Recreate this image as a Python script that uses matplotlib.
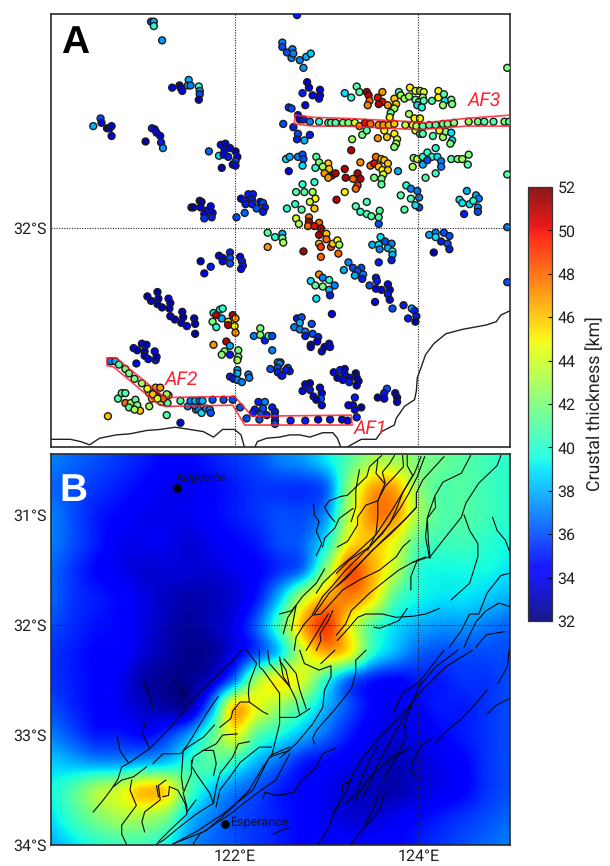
import numpy as np
import matplotlib
matplotlib.use("Agg")
import matplotlib.pyplot as plt
from matplotlib.cm import ScalarMappable
from matplotlib.colors import Normalize

plt.rcParams['font.family'] = ['Roboto', 'DejaVu Sans']
plt.rcParams['text.hinting'] = 'no_hinting'

# Stations: (longitude E, latitude S, crustal thickness km)
stations_far_north = [(121.09,30.12,36),(121.12,30.12,38),(121.12,30.16,40),(121.21,30.29,37.5),
 (121.32,30.72,34),(121.40,30.70,34),(121.41,30.72,33.5),(121.43,30.75,34),(121.50,30.65,38),(121.49,30.70,38),(121.52,30.70,37),
 (121.61,30.71,40),(121.62,30.75,37.5),(121.62,30.78,36),(121.61,30.83,33),
 (120.46,31.07,38),(120.54,31.00,36),(120.55,31.04,34),(120.61,31.09,33),(120.64,31.09,34),(120.66,31.07,33.5),(120.66,31.16,34),
 (121.03,31.21,33),(121.10,31.09,35),(121.13,31.10,34),(121.15,31.13,34),(121.19,31.16,33.5),(121.20,31.22,35),(121.22,31.27,37.5)]
stations_nw_block = [(121.72,31.30,36.5),(121.83,31.34,39),(121.86,31.45,33),(121.85,31.24,34.5),(121.90,31.23,33.5),(121.89,31.29,34),
 (121.93,31.35,35),(121.95,31.27,34),(121.88,31.33,34),(122.01,31.30,33),(122.03,31.35,34),(122.01,31.39,36),(121.98,31.42,34),(122.01,31.43,34.5),
 (121.53,31.81,33),(121.55,31.81,33),(121.62,31.75,33),(121.64,31.76,33),(121.63,31.81,33.5),(121.70,31.84,34.5),(121.74,31.80,34),(121.67,31.87,34),
 (121.76,31.86,34),(121.75,31.90,35),(121.67,31.91,35.5),(122.07,31.73,34),(122.11,31.75,35),(122.15,31.69,35),(122.20,31.69,35),(122.19,31.74,35),
 (122.12,31.78,35),(122.19,31.78,35),(122.24,31.82,36),(122.28,31.76,34),(122.31,31.77,36),(122.33,31.81,35),(122.31,31.85,35),(122.11,31.86,36.5),(122.02,31.90,36)]
stations_n_central = [(122.52,30.31,37),(122.52,30.35,36),(122.57,30.40,36),(122.63,30.37,37),(122.62,30.45,37),(122.64,30.41,37),(122.71,30.47,37),
 (122.78,30.44,38),(122.83,30.41,38.5),(122.75,30.54,37.5),(122.68,30.06,35),(124.97,30.54,42),(122.79,30.67,33.5),(122.81,30.72,34),(122.74,30.77,35),
 (122.93,30.74,34),(122.85,30.79,34),(122.93,30.79,34),(122.92,30.82,34),(122.77,30.88,34),(122.59,30.90,35.5),(122.62,30.91,36),(122.69,30.97,34),
 (122.53,31.05,36),(122.64,31.08,35)]
stations_af3_top = [(123.20,30.77,39),(123.33,30.71,41),(123.36,30.76,41),(123.27,30.81,40),(123.44,30.76,51.5),(123.46,30.79,51),(123.47,30.84,48),(123.45,30.88,47.5),
 (123.56,30.81,50),(123.61,30.76,47),(123.61,30.85,50),(123.57,30.87,51),(123.67,30.88,47),(123.74,30.82,46),(123.76,30.87,46),(123.74,30.91,43),(123.70,30.95,41),
 (123.79,30.76,41),(123.81,30.79,43),(123.85,30.82,43),(123.90,30.80,43),(123.91,30.72,45),(123.97,30.75,44),(124.02,30.75,44),(124.06,30.76,44),(124.05,30.81,43),
 (123.97,30.83,41),(124.01,30.85,41),(124.06,30.84,41),(123.99,30.88,39),(124.04,30.90,39.5),(123.90,30.96,43),(124.15,30.84,41),(124.22,30.75,45),(124.22,30.81,45),
 (124.28,30.78,41),(124.29,30.84,39),(124.27,30.88,43),(124.36,30.83,42),(124.37,30.87,42)]
stations_af3_below = [(123.69,30.99,45),(123.96,31.00,45),(124.02,31.00,45),(123.39,31.15,42),(123.44,31.11,41),(123.28,31.19,43),(123.56,31.18,47),(123.63,31.11,45),
 (123.66,31.17,46),(123.74,31.14,45),(123.77,31.19,44),(123.76,31.23,43),(123.74,31.26,42),(123.97,31.11,44),(124.02,31.14,42),(124.05,31.14,41),(124.16,31.16,41),
 (124.27,31.17,43),(124.30,31.12,42),(124.36,31.13,39),(124.37,31.20,39),(124.35,31.23,42),(124.23,31.11,45),(122.69,31.14,36),(122.82,31.15,35),(122.76,31.20,38),
 (122.68,31.19,35),(123.27,31.29,51),(124.19,31.27,40)]
stations_row_three = [(122.56,31.37,39),(122.60,31.35,38),(122.69,31.35,37),(122.74,31.33,36),(122.75,31.37,36),(122.74,31.43,39),(122.59,31.48,34),(122.89,31.35,41),
 (122.92,31.40,42),(123.02,31.41,46),(122.88,31.45,40),(122.96,31.44,43),(123.03,31.46,46),(122.98,31.50,47),(123.06,31.52,51),(123.10,31.50,51),(123.02,31.54,47),
 (123.20,31.46,51),(123.21,31.54,51),(123.37,31.40,47),(123.34,31.50,51),(123.37,31.55,51),(123.29,31.55,48),(123.34,31.61,49),(123.32,31.64,48),(123.52,31.54,42),
 (123.48,31.43,48),(123.52,31.41,50),(123.54,31.35,48),(123.60,31.37,46),(123.63,31.38,46),(123.67,31.41,46),(123.57,31.44,46),(123.61,31.47,45),(123.67,31.47,46),
 (123.62,31.51,44),(123.60,31.55,42),(123.60,31.60,41),(123.78,31.48,38),(123.95,31.36,42),(123.99,31.37,44),(123.94,31.44,43),(124.05,31.35,40),(124.10,31.31,40),
 (124.15,31.35,40),(124.21,31.35,39),(124.25,31.39,37),(124.05,31.42,38),(124.10,31.38,36),(124.25,31.44,37),(124.19,31.50,40),(124.08,31.54,41),(124.36,31.37,41),
 (124.43,31.37,42),(124.48,31.37,43),(124.55,31.33,42),(124.54,31.42,41),(124.97,31.51,41)]
stations_row_four = [(122.74,31.60,40),(122.67,31.67,41),(122.76,31.67,41),(122.87,31.58,40),(122.85,31.67,43),(122.88,31.73,45),(122.82,31.76,44),(122.66,31.78,40),
 (122.73,31.83,41),(122.57,31.82,40),(122.87,31.82,46),(123.20,31.67,45),(123.11,31.74,51),(123.87,31.61,40),(123.92,31.64,37),(123.99,31.66,37),(123.81,31.70,41),
 (123.92,31.73,41),(124.01,31.72,37),(124.01,31.81,36),(123.85,31.83,41),(123.97,31.79,39),(123.32,31.80,41),(123.37,31.85,40),(123.44,31.76,41),(123.44,31.87,41),
 (123.49,31.89,41),(123.58,31.84,41),(123.57,31.96,36),(123.57,31.90,41),(124.45,31.74,39),(124.53,31.66,38),(124.48,31.77,39),(124.56,31.78,39),(124.63,31.70,38),
 (124.66,31.73,37),(124.65,31.81,37),(124.65,31.85,36),(124.50,31.87,35),(124.60,31.75,40),(124.97,31.99,37),(122.67,31.91,44),(122.70,31.96,43),(122.81,31.90,48),
 (122.81,31.94,51),(122.92,31.95,48),(122.80,31.98,48),(122.87,31.98,50),(122.94,32.00,51)]
stations_south_east = [(122.36,32.04,41),(122.44,32.08,40),(122.52,32.05,38),(122.52,32.09,42),(122.53,32.13,43),(122.36,32.17,47),
 (122.92,32.06,51),(123.00,32.05,46),(123.00,32.10,48),(122.92,32.14,46),(122.94,32.17,49),(123.05,32.17,49),(123.07,32.14,46),(123.12,32.11,45),(123.14,32.15,43),
 (123.13,32.23,48),(122.94,32.26,48),(122.75,32.21,51),(123.50,32.15,38),(123.57,32.15,39),(123.59,32.08,39),(123.64,32.12,36),(123.71,32.14,37),(123.67,32.18,38),
 (123.58,32.19,37),(123.72,32.21,40),(123.72,32.24,38),(123.71,32.29,35),(123.57,32.31,35),(124.12,32.06,38),(124.19,32.04,37),(124.19,32.08,39),(124.25,32.12,35),
 (124.28,32.04,36),(124.34,32.07,36),(124.32,32.14,36),(124.34,32.19,35),(124.17,32.22,33),(124.97,32.49,36),(123.24,32.31,37),(123.29,32.36,36),(123.19,32.38,38),
 (123.38,32.36,36),(123.34,32.39,36),(123.40,32.42,37),(123.31,32.43,38),(123.39,32.46,35),(122.92,32.42,47),(122.83,32.48,39),(122.88,32.52,41),(122.96,32.45,37),
 (122.96,32.53,42),(123.03,32.47,40),(123.09,32.52,37),(123.03,32.56,38),(123.04,32.61,35),(122.89,32.64,39),(123.54,32.45,35),(123.55,32.48,35),(123.47,32.52,36),
 (123.54,32.55,34),(123.60,32.56,34),(123.67,32.51,34),(123.69,32.56,34),(123.67,32.60,35),(123.69,32.65,34),(123.53,32.67,34),(123.72,32.73,36),(123.84,32.70,35),
 (123.93,32.73,38),(123.96,32.75,35),(123.98,32.80,35),(123.97,32.85,33),(123.89,32.82,35)]
stations_south_mid = [(123.06,32.78,34),(122.68,32.82,35),(122.73,32.81,36),(122.71,32.86,38),(122.65,32.90,37),(122.71,32.92,37),(122.77,32.94,37),(122.84,32.87,36),
 (122.77,32.98,35),(122.85,32.96,36),(122.91,32.99,35),(122.90,33.03,34),(122.83,33.06,33),(122.83,33.08,33),(122.95,33.12,34),(122.98,33.08,33),(123.03,33.05,34),
 (123.04,33.08,34),(122.50,33.22,38),(122.58,33.27,36),(122.60,33.30,35),(122.51,33.34,35),(122.56,33.29,35),(123.08,33.31,34),(123.12,33.36,33),(123.15,33.29,35),
 (123.20,33.28,33),(123.20,33.33,34),(123.18,33.38,34),(123.25,33.36,34),(123.25,33.40,35),(123.32,33.32,33),(123.33,33.36,33),(123.35,33.39,33),(123.33,33.43,33),
 (122.74,33.48,34),(122.77,33.42,34),(122.82,33.41,33),(122.82,33.47,35),(122.93,33.45,34),(122.95,33.50,34),(122.86,33.53,34),(122.94,33.55,36),(122.95,33.61,34),
 (122.89,33.56,33),(123.31,33.54,35),(123.24,33.61,34),(123.29,33.61,34),(123.31,33.65,34),(123.38,33.63,33),(123.33,33.72,35),(123.66,33.46,36),(123.63,33.50,35),
 (123.63,33.55,34),(123.56,33.54,33),(123.75,33.50,33),(123.77,33.54,33),(123.77,33.58,33)]
stations_south_west = [(121.63,32.30,33),(121.74,32.35,35),(121.67,32.41,34),(121.83,32.25,34),(121.87,32.27,34),(121.87,32.30,34),(121.95,32.22,35),(121.95,32.27,36),
 (121.95,32.32,36),(122.06,32.26,34),(122.08,32.30,35),(122.09,32.34,35),(122.07,32.37,34),(121.05,32.62,33),(121.09,32.66,33),(121.16,32.58,33),(121.17,32.64,33),
 (121.16,32.69,33),(121.21,32.72,33),(121.28,32.64,34),(121.30,32.68,33),(121.29,32.73,33),(121.30,32.80,33),(121.35,32.83,33),(121.43,32.76,33),(121.44,32.81,33),
 (121.42,32.86,33),(121.48,32.89,34),(121.56,32.82,33),(121.57,32.87,33),(121.57,32.96,33),(121.77,32.77,39),(121.84,32.74,40),(121.87,32.73,40),(121.76,32.85,42),
 (121.86,32.82,38),(121.80,32.90,40),(121.80,32.79,51),(121.98,32.79,51),(121.93,32.85,45),(122.01,32.82,47),(121.93,32.88,51),(122.00,32.89,45),(122.01,32.95,47),
 (121.77,33.06,47),(121.91,33.03,51),(121.95,33.07,38),(121.89,33.12,42),(121.86,33.15,42),(121.95,33.15,35),(122.04,33.11,42),(122.04,33.17,42),(122.03,33.20,43),
 (122.21,32.98,37),(122.28,32.91,42),(122.28,32.97,42),(122.33,33.02,35),(122.37,32.98,40),(122.41,32.98,36),(122.41,33.11,37),(122.03,33.29,38),(122.03,33.32,38),
 (121.95,33.35,35),(121.99,33.37,35),(122.03,33.38,37),(122.08,33.40,37),(122.15,33.33,37),(122.16,33.36,37),(120.90,33.09,34),(120.94,33.11,33),(120.99,33.05,34),
 (121.04,33.06,33),(121.02,33.12,33),(121.02,33.16,33),(121.06,33.19,34),(121.13,33.12,34),(121.14,33.20,35),(121.15,33.17,33),(120.93,33.23,34),
 (121.14,33.45,47),(121.19,33.45,47),(121.07,33.50,47),(121.10,33.55,46),(121.15,33.52,51),(121.20,33.58,43),(121.28,33.52,44),(121.26,33.51,43),(121.27,33.59,41),
 (121.07,33.62,43),(121.22,33.55,48),(121.49,33.62,37),(121.58,33.65,38),(121.60,33.64,37),(121.64,33.68,39),(121.69,33.64,37),(121.73,33.65,37),(121.74,33.68,36),
 (121.56,33.61,37),(120.73,33.55,41),(120.77,33.50,41),(120.81,33.50,41),(120.81,33.59,48),(120.87,33.59,43),(120.92,33.56,41),(120.85,33.63,41),(120.93,33.64,43),
 (120.94,33.61,42),(120.97,33.66,46),(120.91,33.65,43),(120.62,33.71,46),(121.26,33.70,41),(121.41,33.77,34),(122.26,33.58,35),(122.33,33.58,37),(122.22,33.65,35),
 (122.29,33.68,36),(122.31,33.64,36),(122.20,33.68,35),(122.27,33.74,36),(122.35,33.70,35),(122.41,33.63,35),(122.44,33.67,35),(122.44,33.71,35),(122.44,33.75,35),
 (122.44,33.78,36),(122.47,33.22,38),(122.49,33.23,37),(122.39,33.28,36),(122.47,33.27,36),(122.47,33.31,35),(122.52,33.34,35)]
stations_af1 = [(122.61,33.75,35),(122.77,33.75,35),(122.91,33.74,34),(123.04,33.74,35),(123.17,33.74,34),(123.23,33.75,34)]
stations_af2 = [(120.65,33.21,37),(120.70,33.21,38),(120.74,33.24,41),(120.81,33.28,42),(120.85,33.32,42),(120.91,33.37,42),(120.99,33.41,43),(121.05,33.46,45),
 (121.11,33.51,46),(121.16,33.55,44),(121.41,33.57,41),(121.52,33.57,37),(121.57,33.57,38),(121.62,33.57,37),(121.65,33.57,38),(121.76,33.56,36),(121.88,33.56,36),
 (121.98,33.56,36),(122.06,33.63,36),(122.13,33.73,36)]
stations_af3 = [(122.71,31.01,34.5),(122.75,31.01,35),(122.82,31.03,37),(122.92,31.03,40),(123.02,31.04,41),(123.05,31.04,41),(123.10,31.04,41),(123.18,31.04,42),
 (123.24,31.04,42),(123.31,31.04,44),(123.36,31.07,47),(123.42,31.04,50),(123.48,31.05,48),(123.57,31.06,47),(123.62,31.06,47),(123.68,31.06,46.5),(123.74,31.05,46),
 (123.86,31.06,44),(123.94,31.06,45),(123.98,31.07,43),(124.05,31.07,41),(124.12,31.06,41),(124.19,31.06,41),(124.27,31.05,42),(124.32,31.05,42),(124.39,31.04,42),
 (124.55,31.03,43),(124.65,31.03,42),(124.72,31.03,41),(124.82,31.03,41),(124.94,31.03,42),(124.99,31.03,41)]

profile_af3 = [(122.66,30.97),(122.85,30.99),(123.21,31.00),(123.94,31.03),(124.08,31.04),(124.52,31.00),(125.0,30.97),(125.0,31.07),(124.52,31.07),(124.05,31.10),
 (123.94,31.10),(123.21,31.07),(122.85,31.07),(122.65,31.05),(122.66,30.97)]
profile_af12 = [(120.61,33.18),(120.71,33.18),(121.24,33.54),(122.00,33.53),(122.19,33.71),(123.27,33.70),(123.28,33.79),(122.11,33.79),(121.98,33.61),(121.24,33.62),
 (121.15,33.59),(120.68,33.26),(120.61,33.25),(120.61,33.18)]

coast_west = [(119.99,33.92),(120.10,33.92),(120.21,33.92),(120.32,33.94),(120.42,33.97),(120.53,33.91),(120.71,33.88),(120.86,33.87),(121.04,33.84),(121.19,33.83),
 (121.35,33.81),(121.51,33.83),(121.66,33.85),(121.77,33.90),(121.87,33.83),(122.00,33.83),(122.07,33.88),(122.11,34.00)]
coast_mid = [(122.22,33.99),(122.25,33.94),(122.35,33.91),(122.49,33.90),(122.60,33.88),(122.71,33.88),(122.82,33.90),(122.96,33.86),(123.07,33.86),(123.12,33.91),(123.16,34.00)]
coast_east = [(123.21,34.00),(123.27,33.97),(123.38,33.92),(123.54,33.92),(123.60,33.85),(123.74,33.79),(123.76,33.73),(123.85,33.62),(123.96,33.56),(123.98,33.48),
 (123.99,33.36),(124.03,33.27),(124.08,33.15),(124.17,33.05),(124.30,32.96),(124.48,32.92),(124.74,32.88),(124.85,32.85),(124.90,32.79),(125.0,32.75)]

# Panel B thickness read on a 0.25 degree mesh, rows from 30.5 S to 34 S
grid_lon = [120 + 0.25 * i for i in range(21)]
grid_lat = [30.5 + 0.25 * i for i in range(15)]
thickness_grid = [
 [37,36.5,36,35.5,35,34.5,34.5,35,35.5,36,37,37.5,39,41,43,43,42,41.5,41,40.5,40],
 [36.5,36,35.5,35,34.5,34,34,34.5,35,35.5,35.5,35.5,36.5,42.5,46.5,46.5,42.5,41,41,40.5,40],
 [37,36,35,34.5,34,34,34,34.5,35,35.5,36,36,37.5,43.5,47.3,47,43,41,41,40.5,40],
 [37,36,35,34,34,34,33.5,34,34.5,35,36,36.5,39.5,45,46,44.5,41,40.5,40.5,40,39.5],
 [36.5,35.5,34.5,34,33.5,33.5,33.5,33.5,34,34.5,35.5,37,42.5,48.3,46.5,43.5,40,39.5,39.5,39.5,39],
 [36.5,35.5,35,34.5,33.8,33.2,32.8,33,33.5,35,38.5,43.5,46.5,47.5,45.5,41,39.5,39,39,38.5,38],
 [36,35.3,34.8,34.5,33.8,33,32.5,33,34,36.5,41,46.5,49,45,41,39,38,37.5,37.5,37,36.5],
 [35.5,35,34.5,34.5,33.5,32.8,32.3,32.5,34,36,39,44,46.5,45,40,38,36.5,36,36,36,36],
 [35.5,35,34.5,34,32.8,32.3,32.3,33.5,37,43,45,44,40,36.5,35,34.5,35,35,35.5,35.5,36],
 [36,35.2,34.5,34,33.3,32.8,32.8,37.5,46,44.5,42.5,40.5,38,36,34.5,34,34.5,35,35,35.5,36],
 [37,36,35,35,34.5,35.5,37.5,41,44.5,41,39.5,38,36.5,35,34,33.5,34,34.5,35,35.5,36],
 [38.5,38,37.5,37.5,38,38.5,40,41,40,38,36.5,35,34.5,34,33.5,33,33.5,34,34.5,35.5,36],
 [39.5,41,43,44,46,45.5,41,38.5,37,36,35,34.5,34,33.5,33,32.8,33.5,34,34.5,35.5,36],
 [39,40.5,42,43,43,42,38.5,37,36,35.5,35,34.5,34,33.5,33.5,34,34.5,35,35.5,36,36.5],
 [38,39,40,40.5,40.5,39.5,37.5,36.5,36,35.5,35,34.5,34.5,34.5,34.5,34.5,35,35.5,36,36.5,37],
]

# Fault traces (lon E, lat S)
faults_north = [
 [(123.60,30.46),(123.47,30.56),(123.44,30.65),(123.34,30.73),(123.23,30.82),(123.16,30.83),(123.03,30.87),(122.98,30.93),(123.03,31.00),(123.09,31.06)],
 [(122.86,30.90),(122.87,31.00),(122.92,31.06),(122.89,31.15),(122.95,31.26),(122.89,31.37)],
 [(123.29,30.94),(123.14,31.03),(123.09,31.12),(122.98,31.21),(122.96,31.29)],
 [(123.74,30.46),(123.69,30.53),(123.61,30.61),(123.64,30.71),(123.56,30.87),(123.43,30.91),(123.34,31.02),(123.34,31.09),(123.23,31.24),(123.12,31.29)],
 [(123.83,30.46),(123.84,30.56),(123.72,30.67),(123.64,30.74),(123.56,30.87),(123.56,31.02),(123.54,31.17),(123.45,31.32)],
 [(123.56,30.50),(123.54,30.62),(123.63,30.71)],
 [(123.36,30.59),(123.32,30.77),(123.32,30.93),(123.27,31.06)],
 [(123.88,30.46),(123.88,30.55),(123.94,30.64),(123.83,30.80),(123.76,30.95),(123.69,31.08),(123.47,31.29),(123.25,31.41),(123.11,31.53)],
 [(124.28,30.47),(124.05,30.68),(123.98,30.80),(123.98,30.93),(123.83,31.06),(123.61,31.23),(123.40,31.41),(123.21,31.58),(123.11,31.65)],
 [(124.07,30.47),(123.99,30.65),(123.90,30.80),(123.81,30.93),(123.61,31.17),(123.43,31.32),(123.21,31.50),(123.07,31.64),(122.96,31.74),(122.85,31.90)],
 [(124.03,30.47),(123.96,30.62),(123.87,30.74),(123.72,30.95),(123.54,31.18),(123.32,31.35),(123.12,31.49),(122.96,31.62),(122.89,31.71)],
 [(123.98,30.93),(123.87,31.03),(123.69,31.18),(123.50,31.32),(123.34,31.46),(123.18,31.59),(123.03,31.71),(122.87,31.90)],
 [(123.91,31.23),(123.83,31.29),(123.76,31.38),(123.58,31.50),(123.36,31.59),(123.18,31.68),(123.05,31.80),(122.94,31.90),(122.85,31.91),(122.76,31.99),(122.67,32.11),(122.65,32.23)],
 [(124.08,31.38),(123.94,31.43),(123.79,31.50),(123.65,31.59),(123.47,31.71),(123.27,31.87),(123.21,31.99),(123.11,32.09)],
 [(123.99,31.41),(123.92,31.56),(123.92,31.68)],
 [(123.88,31.85),(123.79,31.96),(123.58,32.03),(123.52,32.02)],
 [(124.23,31.85),(124.08,31.90),(123.94,31.92),(123.76,31.93),(123.61,31.90),(123.43,31.90),(123.34,31.93),(123.25,32.02),(123.12,32.14)],
 [(124.57,30.46),(124.47,30.62),(124.27,30.70),(124.18,30.83),(124.10,31.02),(124.08,31.20),(124.12,31.38),(123.94,31.43)],
 [(124.18,30.83),(124.19,30.93),(124.10,31.03),(124.11,31.23),(124.13,31.39)],
 [(124.90,30.46),(124.86,30.55),(124.66,30.71),(124.52,30.89),(124.47,31.02),(124.27,31.23),(124.12,31.39)],
 [(124.50,31.00),(124.56,31.14),(124.65,31.26),(124.65,31.38),(124.56,31.62),(124.36,31.77)],
 [(124.81,31.02),(124.86,31.14),(124.95,31.23),(124.99,31.32)],
 [(124.99,31.53),(124.90,31.55),(124.75,31.71),(124.66,31.90),(124.56,31.90),(124.47,32.05),(124.34,32.20)],
 [(124.99,31.83),(124.88,31.80),(124.74,31.87),(124.63,31.97),(124.56,32.09),(124.50,32.20)],
 [(124.94,32.06),(124.74,32.09),(124.63,32.20)],
 [(122.49,31.90),(122.62,31.87),(122.67,31.82),(122.62,32.05)],
 [(122.98,31.49),(122.89,31.62),(122.74,31.74),(122.67,31.82),(122.58,31.93),(122.53,32.08)],
 [(123.07,31.87),(123.02,31.96),(122.93,32.08),(122.94,32.14),(122.89,32.23)],
 [(123.02,31.90),(122.78,32.23)],
]
faults_sw = [
 [(122.07,32.23),(121.95,32.35),(121.80,32.47),(121.48,32.73),(121.44,32.79),(121.29,32.94),(121.08,33.12),(120.84,33.26),(120.77,33.29),(120.73,33.40),(120.66,33.49),(120.57,33.59),(120.46,33.70)],
 [(121.00,32.50),(121.06,32.61),(121.11,32.76)],
 [(121.34,32.50),(121.42,32.58),(121.46,32.65)],
 [(121.02,32.89),(121.00,32.99),(121.07,33.12)],
 [(120.72,33.00),(120.75,33.14),(120.84,33.25)],
 [(121.04,33.29),(120.90,33.38),(120.77,33.41),(120.68,33.47)],
 [(120.88,33.41),(120.86,33.50),(120.93,33.64),(120.77,33.82),(120.77,33.90),(120.82,33.99)],
 [(121.82,32.65),(121.69,32.81),(121.51,33.06),(121.44,33.14),(121.42,33.38),(121.44,33.50)],
 [(121.78,32.91),(121.66,33.02),(121.49,33.11),(121.41,33.17),(121.22,33.17),(121.11,33.26)],
 [(122.03,32.99),(121.87,33.00),(121.80,33.08),(121.66,33.14),(121.55,33.20),(121.53,33.28),(121.58,33.35),(121.73,33.53),(121.77,33.62)],
 [(121.65,33.14),(121.77,33.14),(121.80,33.26),(121.77,33.37)],
 [(122.16,33.06),(122.04,33.08),(121.98,33.20),(121.84,33.35),(121.80,33.47),(121.77,33.62),(121.58,33.72),(121.44,33.81),(121.22,33.96),(121.15,33.99)],
 [(121.53,33.23),(121.53,33.35),(121.44,33.53),(121.48,33.65),(121.48,33.72),(121.29,33.87),(121.17,33.97)],
 [(121.58,33.59),(121.49,33.69)],
 [(121.25,33.41),(121.17,33.46),(121.19,33.59),(121.02,33.70),(120.99,33.79),(121.02,33.88)],
 [(121.29,33.47),(121.38,33.50),(121.46,33.62),(121.48,33.70)],
 [(121.29,33.47),(121.28,33.55),(121.22,33.56)],
 [(121.15,33.46),(121.17,33.56)],
 [(122.60,33.11),(122.40,33.18),(122.31,33.29),(122.16,33.50),(121.95,33.68),(121.69,33.87),(121.33,33.99)],
 [(122.40,33.11),(122.27,33.11),(122.06,33.25),(121.95,33.38),(121.84,33.50),(121.80,33.65)],
 [(122.60,33.14),(122.38,33.20),(122.20,33.50),(121.87,33.72),(121.58,33.88),(121.33,33.99)],
 [(122.60,33.53),(122.45,33.55),(122.33,33.52),(122.31,33.58)],
 [(122.60,33.17),(122.45,33.41),(122.24,33.53),(121.95,33.72),(121.62,33.90),(121.55,33.99)],
 [(122.13,32.23),(122.24,32.35),(122.16,32.53),(122.15,32.62),(122.16,32.70),(122.31,32.79),(122.36,32.81)],
 [(122.27,32.23),(122.27,32.38),(122.31,32.41),(122.49,32.62),(122.49,32.90),(122.40,33.20)],
 [(122.36,32.23),(122.38,32.35),(122.60,32.56)],
 [(122.16,32.70),(122.06,32.70),(121.98,32.78),(121.96,32.85),(121.84,32.93)],
 [(122.49,32.29),(122.53,32.47),(122.60,32.56)],
 [(122.60,33.84),(122.42,33.90)],
]
faults_se = [
 [(122.49,32.32),(122.56,32.41),(122.60,32.56),(122.67,32.68),(122.71,32.82)],
 [(122.54,32.31),(122.67,32.44),(122.71,32.59),(122.78,32.76)],
 [(122.71,32.23),(122.76,32.35),(122.92,32.41),(123.05,32.37),(123.05,32.47),(122.98,32.59),(122.96,32.75),(122.85,32.90),(122.67,33.08),(122.49,33.21)],
 [(123.09,32.23),(122.94,32.35)],
 [(123.43,32.23),(123.32,32.32),(123.32,32.44),(123.27,32.58),(123.11,32.75),(122.89,32.96),(122.85,33.03),(122.87,33.08)],
 [(122.49,32.84),(122.67,32.84),(122.82,32.76)],
 [(123.10,33.12),(122.96,33.17),(122.89,33.29),(122.71,33.43),(122.65,33.52),(122.49,33.55)],
 [(124.28,32.23),(124.01,32.52),(123.83,32.62),(123.74,32.78)],
 [(124.43,32.23),(124.19,32.38),(124.01,32.56),(123.94,32.70),(123.79,32.84),(123.58,33.02),(123.40,33.20),(123.29,33.35),(123.21,33.53),(123.09,33.68),(123.03,33.84),(122.91,33.99)],
 [(124.59,32.23),(124.30,32.38),(124.01,32.62),(123.94,32.70),(123.85,32.91),(123.87,33.02),(123.76,33.20),(123.63,33.40)],
 [(123.94,32.70),(123.76,32.96),(123.58,33.23),(123.40,33.56)],
 [(123.56,33.09),(123.40,33.35),(123.31,33.62)],
 [(123.91,33.12),(123.72,33.20),(123.47,33.38),(123.38,33.50),(123.21,33.62)],
 [(123.25,33.43),(123.18,33.44),(123.16,33.59),(123.09,33.70)],
 [(123.57,33.53),(123.52,33.65),(123.42,33.81)],
 [(123.63,33.53),(123.58,33.68),(123.43,33.82),(123.27,33.99)],
 [(124.15,33.03),(124.05,33.08),(123.94,33.23),(123.92,33.32),(123.97,33.38)],
 [(124.75,32.59),(124.59,32.75),(124.45,32.87),(124.34,32.94),(124.23,33.03),(124.19,33.08)],
 [(124.99,32.67),(124.85,32.73),(124.75,32.81)],
 [(124.99,32.23),(124.97,32.38),(124.87,32.53)],
]

cities = ["Kalgoorlie", "Esperance"]
city_lon = [121.37, 121.89]
city_lat = [30.755, 33.81]
cbar_ticks = list(range(32, 54, 2))
grid_lon_lines = [122, 124]
grid_lat_line = 32
b_lat_ticks = [31, 32, 33, 34]

W, H = 610, 866
fig = plt.figure(figsize=(W / 100, H / 100), dpi=100)
def box(l, t, r, b):
    return [l / W, 1 - b / H, (r - l) / W, (b - t) / H]

ax_a = fig.add_axes(box(51, 14, 510, 447))
ax_b = fig.add_axes(box(51, 454, 510, 845))
cax = fig.add_axes(box(528, 187, 552, 621))
cmap = plt.get_cmap('jet', 256)
norm = Normalize(32, 52)

groups = [stations_far_north, stations_nw_block, stations_n_central, stations_af3_top, stations_af3_below,
          stations_row_three, stations_row_four, stations_south_east, stations_south_mid, stations_south_west,
          stations_af1, stations_af2, stations_af3]
st = np.array([row for g in groups for row in g])
ax_a.scatter(st[:, 0], -st[:, 1], c=st[:, 2], cmap=cmap, norm=norm, s=25, edgecolors='#1c1c1c',
             linewidths=1.0, zorder=3, clip_on=True)
for prof in (profile_af3, profile_af12):
    p = np.array(prof)
    ax_a.plot(p[:, 0], -p[:, 1], color='#ff2030', lw=1.2, alpha=0.85, zorder=4)
for coast in (coast_west, coast_mid, coast_east):
    c = np.array(coast)
    ax_a.plot(c[:, 0], -c[:, 1], color='#222222', lw=1.0, zorder=2)
for label, lo, la in [('AF3', 124.72, 30.84), ('AF2', 121.42, 33.38), ('AF1', 123.48, 33.82)]:
    ax_a.text(lo, -la, label, color='#ff2030', style='italic', fontsize=14, ha='center', va='center', zorder=5)

dlon = 0.125
ax_b.imshow(np.array(thickness_grid), cmap='jet', norm=norm, interpolation='catrom', aspect='auto',
            extent=[grid_lon[0] - dlon, grid_lon[-1] + dlon, -grid_lat[-1] - dlon, -grid_lat[0] + dlon],
            origin='upper', zorder=1)
for tr in faults_north + faults_sw + faults_se:
    f = np.array(tr)
    ax_b.plot(f[:, 0], -f[:, 1], color='#0a0a0a', lw=0.8, zorder=3, solid_joinstyle='round')
ax_b.scatter(city_lon, -np.array(city_lat), s=26, color='black', zorder=4)
ax_b.text(city_lon[0] - 0.0, -city_lat[0] + 0.09, cities[0], style='italic', fontsize=8.2, color='#101030', va='center', ha='left', zorder=5)
ax_b.text(city_lon[1] + 0.07, -city_lat[1] + 0.02, cities[1], fontsize=9, color='#101030', va='center', ha='left', zorder=5)

for ax, ylim in ((ax_a, (-33.99, -30.05)), (ax_b, (-34.0, -30.445))):
    ax.set_xlim(120.0, 125.0)
    ax.set_ylim(*ylim)
    for x in grid_lon_lines:
        ax.axvline(x, color='#222222', lw=0.8, ls=(0, (1, 1.3)), zorder=3.5)
    ax.axhline(-grid_lat_line, color='#222222', lw=0.8, ls=(0, (1, 1.3)), zorder=3.5)
    for s in ax.spines.values():
        s.set_linewidth(1.2)
        s.set_color('#2a2a2a')
    ax.tick_params(length=0, labelsize=11.5, labelcolor='#222222', pad=3)

ax_a.set_xticks([])
ax_a.set_yticks([-32])
ax_a.set_yticklabels(['32°S'])
ax_b.set_xticks(grid_lon_lines)
ax_b.set_xticklabels([f'{v}°E' for v in grid_lon_lines])
ax_b.set_yticks([-v for v in b_lat_ticks])
ax_b.set_yticklabels([f'{v}°S' for v in b_lat_ticks])

ax_a.text(0.022, 0.933, 'A', transform=ax_a.transAxes, fontsize=28, fontweight='bold', color='black',
          family=['Liberation Sans'], va='center', ha='left', zorder=6)
ax_b.text(0.018, 0.905, 'B', transform=ax_b.transAxes, fontsize=28, fontweight='bold', color='white',
          family=['Liberation Sans'], va='center', ha='left', zorder=6)

cb = fig.colorbar(ScalarMappable(norm=norm, cmap=cmap), cax=cax, ticks=cbar_ticks, drawedges=False)
cb.solids.set_alpha(0.9)
cb.outline.set_linewidth(0.9)
cb.outline.set_edgecolor('#333333')
cax.tick_params(direction='in', length=3, width=0.8, labelsize=11.5, labelcolor='#222222', pad=4)
cb.set_label('Crustal thickness [km]', fontsize=12.8, color='#222222', labelpad=8)

fig.savefig('out.png', dpi=100)
